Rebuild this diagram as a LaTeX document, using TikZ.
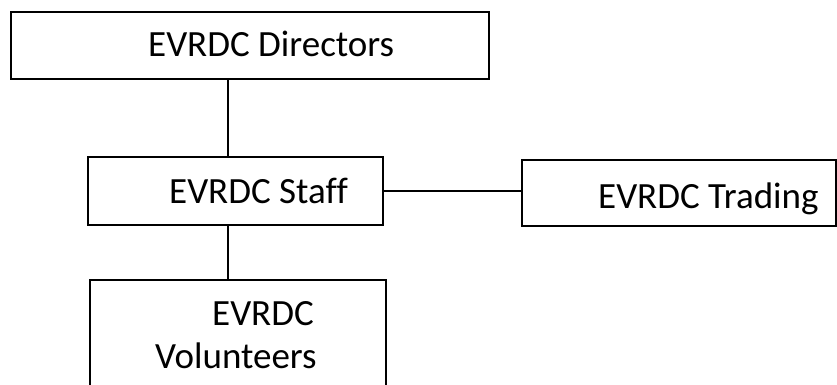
\documentclass[tikz,border=0pt]{standalone}
\usepackage{fontspec}
\setmainfont[Ligatures=NoCommon]{Carlito}
\begin{document}
\begin{tikzpicture}[x=1pt,y=-1pt,
  box/.style={draw=black, line width=1.6pt, fill=white, inner sep=0pt},
  lbl/.style={anchor=base west, inner sep=0pt, font=\fontsize{37}{40}\selectfont},
  link/.style={draw=black, line width=1.6pt}]
\clip (0,0) rectangle (837,385);
\fill[white] (0,0) rectangle (837,385);
% boxes
\node[box, minimum width=478pt, minimum height=67pt] (dir) at (250,45.5) {};
\node[box, minimum width=295pt, minimum height=68pt] (stf) at (235.5,191) {};
\node[box, minimum width=314pt, minimum height=66pt] (trd) at (679,193) {};
\node[box, minimum width=296pt, minimum height=130pt] (vol) at (238,345) {};
% texts
\node[lbl] (dirT) at (148,57) {EVRDC Directors};
\node[lbl] (stfT) at (169,203) {EVRDC Staff};
\node[lbl] (trdT) at (598,208) {EVRDC Trading};
\node[lbl] (volT1) at (212,325) {EVRDC};
\node[lbl] (volT2) at (155,368) {Volunteers};
% connectors
\coordinate (cx) at (228,0);
\draw[link] (dir.south -| cx) -- (stf.north -| cx);
\draw[link] (stf.south -| cx) -- (vol.north -| cx);
\draw[link] (stf.east) -- (trd.west |- stf.east);
\end{tikzpicture}
\end{document}
